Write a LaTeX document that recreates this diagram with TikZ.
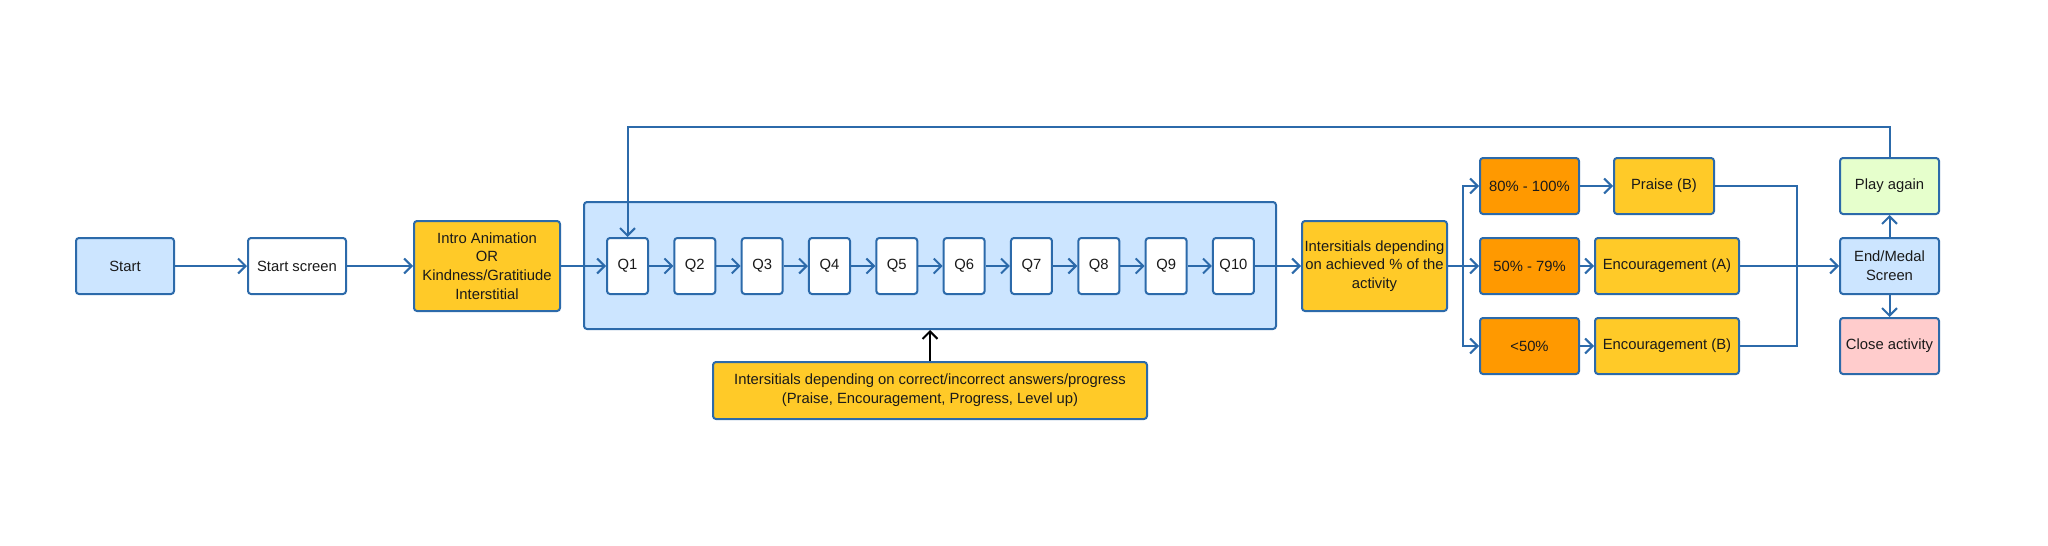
\documentclass[tikz,border=0pt]{standalone}
\usepackage{fontspec}
\setmainfont{Liberation Sans}
\definecolor{flowblue}{RGB}{44,106,170}
\definecolor{flowsky}{RGB}{204,229,255}
\definecolor{flowyellow}{RGB}{255,202,40}
\definecolor{floworange}{RGB}{255,153,0}
\definecolor{flowmint}{RGB}{230,255,204}
\definecolor{flowrose}{RGB}{255,204,204}
\definecolor{flowink}{RGB}{26,26,26}
\usetikzlibrary{arrows.meta,positioning,calc}

\begin{document}
\begin{tikzpicture}[x=1pt, y=1pt,
  box/.style={draw=flowblue, line width=2pt, rounded corners=3pt, inner sep=0pt,
    align=center, text=flowink, font=\fontsize{14.8}{18.8}\selectfont},
  flow/.style={flowblue, line width=2pt, -{Straight Barb[length=7.5pt,width=15pt]}},
  link/.style={flowblue, line width=2pt}]
\useasboundingbox (0,0) rectangle (2048,-546);
% Intro part
\node[box, fill=flowsky, minimum width=98, minimum height=56] (start) at (125,-266) {Start};
\node[box, fill=white, minimum width=98, minimum height=56] (startscr) at (297,-266) {Start screen};
\node[box, fill=flowyellow, minimum width=146, minimum height=90] (intro) at (487,-266)
  {Intro Animation\\OR\\Kindness/Gratitiude\\Interstitial};
% Question block
\node[box, fill=flowsky, minimum width=692, minimum height=127] (qframe) at (930,-265.5) {};
\foreach \i in {1,...,10}
  \node[box, fill=white, minimum width=41, minimum height=56] (q\i) at ({627.5+67.33*(\i-1)},-266) {Q\i};
\node[box, fill=flowyellow, minimum width=434, minimum height=57] (hint) at (930,-390.5)
  {Intersitials depending on correct/incorrect answers/progress\\(Praise, Encouragement, Progress, Level up)};
% Results
\node[box, fill=flowyellow, minimum width=145, minimum height=90] (achieved) at (1374.5,-266)
  {Intersitials depending\\on achieved \% of the\\activity};
\node[box, fill=floworange, minimum width=99, minimum height=56] (hi) at (1529.5,-186) {80\% - 100\%};
\node[box, fill=floworange, minimum width=99, minimum height=56] (mid) at (1529.5,-266) {50\% - 79\%};
\node[box, fill=floworange, minimum width=99, minimum height=56] (lo) at (1529.5,-346) {<50\%};
\node[box, fill=flowyellow, minimum width=100, minimum height=56] (praise) at (1664,-186) {Praise (B)};
\node[box, fill=flowyellow, minimum width=144, minimum height=56] (encA) at (1667,-266) {Encouragement (A)};
\node[box, fill=flowyellow, minimum width=144, minimum height=56] (encB) at (1667,-346) {Encouragement (B)};
% End screens
\node[box, fill=flowmint, minimum width=99, minimum height=56] (playagain) at (1889.5,-186) {Play again};
\node[box, fill=flowsky, minimum width=99, minimum height=56] (endscr) at (1889.5,-266) {End/Medal\\Screen};
\node[box, fill=flowrose, minimum width=99, minimum height=56] (closeact) at (1889.5,-346) {Close activity};
\coordinate (split) at (1463,-266);
\coordinate (merge) at (1797,-266);
\coordinate (loop) at (1889.5,-127);
% Connectors
\draw[flow] (start) -- (startscr);
\draw[flow] (startscr) -- (intro);
\draw[flow] (intro) -- (q1);
\foreach \i [count=\j from 2] in {1,...,9}
  \draw[flow] (q\i) -- (q\j);
\draw[flow] (q10) -- (achieved);
\draw[black, line width=2pt, -{Straight Barb[length=7.5pt,width=15pt]}] (hint) -- (qframe.south);
\draw[link] (achieved) -- (split);
\draw[flow] (split) |- (hi);
\draw[flow] (split) -- (mid);
\draw[flow] (split) |- (lo);
\draw[flow] (hi) -- (praise);
\draw[flow] (mid) -- (encA);
\draw[flow] (lo) -- (encB);
\draw[link] (praise) -| (merge);
\draw[link] (encB) -| (merge);
\draw[flow] (encA) -- (endscr);
\draw[flow] (endscr) -- (playagain);
\draw[flow] (endscr) -- (closeact);
\draw[flow] (playagain) -- (loop) -| (q1);
\end{tikzpicture}
\end{document}
